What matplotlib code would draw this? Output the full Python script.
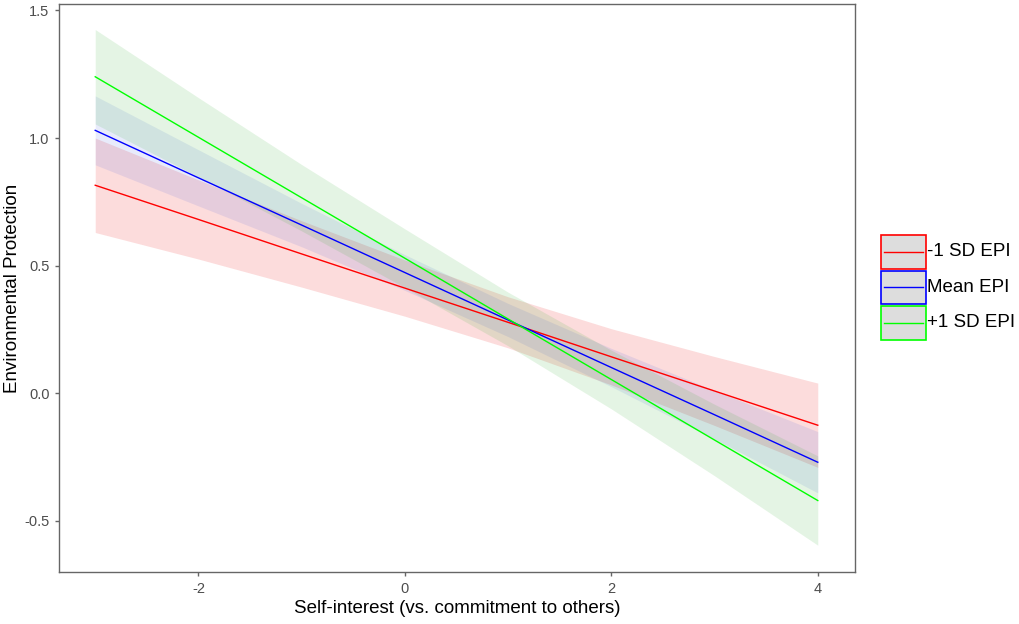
import matplotlib.pyplot as plt
from matplotlib.patches import Rectangle
from matplotlib.lines import Line2D

plt.rcParams['font.family'] = ['Liberation Sans', 'DejaVu Sans']

x_vals = [-3, -2, -1, 0, 1, 2, 3, 4]

series_names = ['-1 SD EPI', 'Mean EPI', '+1 SD EPI']

red_fit = [0.815, 0.681, 0.546, 0.412, 0.278, 0.143, 0.009, -0.125]
red_lo = [0.63, 0.526, 0.416, 0.302, 0.178, 0.033, -0.126, -0.29]
red_hi = [1.00, 0.836, 0.676, 0.522, 0.378, 0.253, 0.144, 0.04]

blue_fit = [1.03, 0.844, 0.659, 0.473, 0.287, 0.101, -0.084, -0.27]
blue_lo = [0.895, 0.734, 0.574, 0.403, 0.222, 0.026, -0.179, -0.39]
blue_hi = [1.165, 0.954, 0.744, 0.543, 0.352, 0.176, 0.011, -0.15]

green_fit = [1.24, 1.003, 0.766, 0.529, 0.291, 0.054, -0.183, -0.42]
green_lo = [1.055, 0.848, 0.636, 0.414, 0.186, -0.061, -0.323, -0.595]
green_hi = [1.425, 1.158, 0.896, 0.644, 0.396, 0.169, -0.043, -0.245]

x_ticks = [-2, 0, 2, 4]
y_ticks = [-0.5, 0.0, 0.5, 1.0, 1.5]

W, H = 1019, 624
fig = plt.figure(figsize=(W / 100, H / 100), dpi=100)
ax = fig.add_axes([0.058, 0.0833, 0.781, 0.9103])

line_cols = ['#FF0000', '#0000FF', '#00FF00']
fill_cols = ['#F03030', '#3050E0', '#30B030']
fill_alpha = [0.17, 0.11, 0.13]

fits = [red_fit, blue_fit, green_fit]
los = [red_lo, blue_lo, green_lo]
his = [red_hi, blue_hi, green_hi]

for i in range(3):
    ax.fill_between(x_vals, los[i], his[i], color=fill_cols[i],
                    alpha=fill_alpha[i], linewidth=0)
for i in range(3):
    ax.plot(x_vals, fits[i], color=line_cols[i], linewidth=1)

ax.set_xlim(-3.35, 4.36)
ax.set_ylim(-0.70, 1.525)
ax.set_xticks(x_ticks)
ax.set_xticklabels(['-2', '0', '2', '4'])
ax.set_yticks(y_ticks)
ax.set_yticklabels(['-0.5', '0.0', '0.5', '1.0', '1.5'])

for s in ax.spines.values():
    s.set_color('#666666')
    s.set_linewidth(1.0)
ax.tick_params(colors='#666666', labelcolor='#4D4D4D', labelsize=10.5,
               length=3, width=1, direction='out', pad=4)

ax.set_xlabel('Self-interest (vs. commitment to others)', fontsize=13.5,
              color='black', labelpad=3)
ax.set_ylabel('Environmental Protection', fontsize=13.5, color='black',
              labelpad=2)

# --- legend drawn by hand: grey boxes, coloured border, line through middle ---
box_x, box_w, box_h = 881, 45, 33.5
box_tops = [235, 270.5, 306]
for name, c, top in zip(series_names, line_cols, box_tops):
    y0 = H - top - box_h
    fig.add_artist(Rectangle((box_x / W, y0 / H), box_w / W, box_h / H,
                             transform=fig.transFigure, facecolor='#DDDDDD',
                             edgecolor=c, linewidth=1.2))
    yc = (y0 + box_h / 2) / H
    fig.add_artist(Line2D([(box_x + 3) / W, (box_x + box_w - 3) / W],
                          [yc, yc], transform=fig.transFigure,
                          color=c, linewidth=1))
    fig.text((box_x + box_w + 1) / W, yc, name, fontsize=13.5,
             ha='left', va='center')

fig.savefig('out.png', dpi=100)
